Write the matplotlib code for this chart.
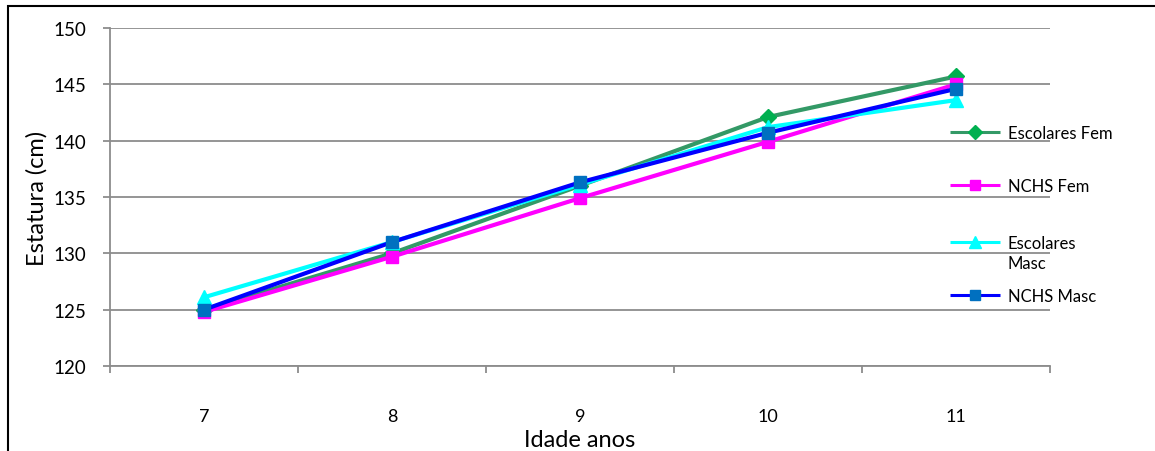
import matplotlib
matplotlib.use("Agg")
import matplotlib.pyplot as plt
from matplotlib.patches import Rectangle
from matplotlib.legend_handler import HandlerLine2D
from matplotlib.ticker import FixedLocator

plt.rcParams["font.family"] = ["Lato", "DejaVu Sans"]

idade = [7, 8, 9, 10, 11]
escolares_fem = [125.0, 130.0, 136.0, 142.1, 145.7]
nchs_fem = [124.8, 129.7, 134.9, 139.9, 145.0]
escolares_masc = [126.1, 131.0, 136.1, 141.2, 143.6]
nchs_masc = [125.0, 131.0, 136.3, 140.7, 144.6]

W, H = 1155, 452
fig = plt.figure(figsize=(W / 100, H / 100), dpi=100)
ax = fig.add_axes([110 / W, (H - 367) / H, 940 / W, 338 / H])

grid_c = "#8c8c8c"

l1, = ax.plot(idade, escolares_fem, color="#339966", lw=3, marker="D",
              ms=8, mfc="#00b050", mec="#00b050", label="Escolares Fem", zorder=3)
l2, = ax.plot(idade, nchs_fem, color="#ff00ff", lw=3, marker="s",
              ms=9, mfc="#ff00ff", mec="#ff00ff", label="NCHS Fem", zorder=4)
l3, = ax.plot(idade, escolares_masc, color="#00ffff", lw=3, marker="^",
              ms=10, mfc="#00ffff", mec="#00ffff", label="Escolares\nMasc", zorder=5)
l4, = ax.plot(idade, nchs_masc, color="#0000ff", lw=3, marker="s",
              ms=9, mfc="#0070c0", mec="#0070c0", label="NCHS Masc", zorder=6)

ax.set_xlim(6.5, 11.5)
ax.set_ylim(120, 150)
ax.set_yticks(range(120, 151, 5))
ax.set_xticks(idade)
ax.xaxis.set_minor_locator(FixedLocator([6.5, 7.5, 8.5, 9.5, 10.5, 11.5]))
ax.tick_params(axis="x", which="major", length=0, pad=30, labelsize=13)
ax.tick_params(axis="x", which="minor", length=5, width=1.3, color=grid_c)
ax.tick_params(axis="y", length=5, width=1.3, color=grid_c, pad=12, labelsize=13.5)
ax.grid(axis="y", color=grid_c, lw=1.3)
ax.set_axisbelow(True)

for s in ["top", "right"]:
    ax.spines[s].set_visible(False)
for s in ["left", "bottom"]:
    ax.spines[s].set_color(grid_c)
    ax.spines[s].set_linewidth(1.3)

ax.set_xlabel("Idade anos", fontsize=17, labelpad=4)
ax.set_ylabel("Estatura (cm)", fontsize=17, labelpad=4)


def thin_handle(shift=0.0):
    # slimmer legend handles; shift (points) raises the handle
    def update(legline, orig):
        legline.update_from(orig)
        legline.set_linewidth(2.2)
        legline.set_solid_capstyle("butt")
        legline.set_markersize(orig.get_markersize() * 0.85)
        legline.set_ydata(legline.get_ydata() + shift)
    return update


# one legend per entry so each sits at its own height on the right;
# the two-line entry keeps its handle level with the first line
entries = [(l1, 134, 0.0), (l2, 187, 0.0), (l3, 254, 8.5), (l4, 297, 0.0)]
for line, yc, shift in entries:
    leg = fig.legend(handles=[line], loc="center left",
                     bbox_to_anchor=(950 / W, 1 - yc / H), frameon=False,
                     fontsize=12, handlelength=3.0, handletextpad=0.45,
                     borderpad=0, borderaxespad=0,
                     handler_map={line: HandlerLine2D(update_func=thin_handle(shift))})
    leg.get_texts()[0].set_linespacing(1.3)

# outer chart frame
fig.patches.append(Rectangle((8 / W, -0.1), 1.2, 1 - 7 / H + 0.1,
                             transform=fig.transFigure, fill=False,
                             ec="black", lw=1.5))

fig.savefig("out.png", dpi=100)
